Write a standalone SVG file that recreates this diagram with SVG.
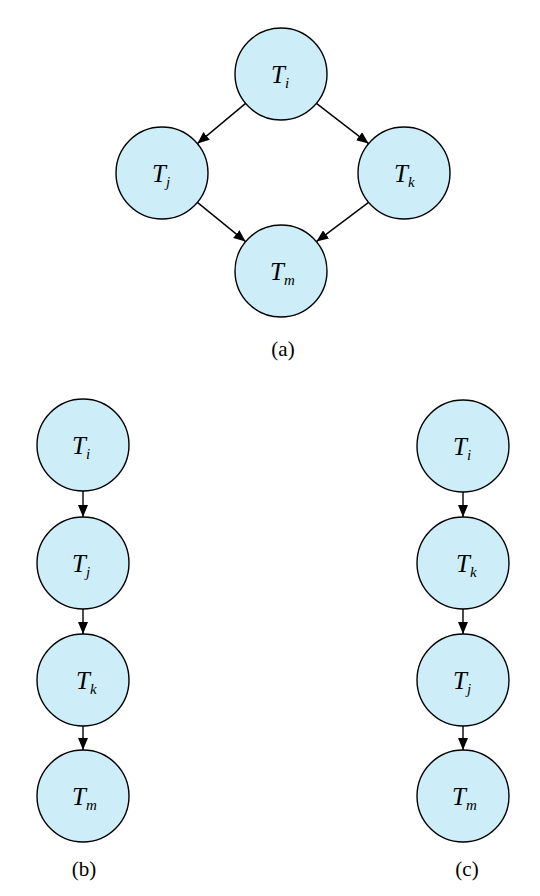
<svg xmlns="http://www.w3.org/2000/svg" width="540" height="896" viewBox="0 0 540 896">
<style>
.n{fill:#cdeef9;stroke:#000;stroke-width:1.4}
.t{font-family:"Liberation Serif","Times New Roman",serif;font-style:italic;font-size:25px;fill:#000}
.s{font-size:15px}
.c{stroke:#000;stroke-width:1.4;fill:none;marker-end:url(#ah)}
.l{font-family:"Liberation Serif","Times New Roman",serif;font-size:21px;fill:#000;text-anchor:middle}
</style>
<defs>
<marker id="ah" markerUnits="userSpaceOnUse" markerWidth="12" markerHeight="10" refX="12" refY="5" orient="auto">
<path d="M0,0 L12,5 L0,10 z" fill="#000"/>
</marker>
</defs>
<g id="connectors">
<line class="c" x1="245.6" y1="103.4" x2="197.4" y2="143.6"/>
<line class="c" x1="316.4" y1="103.4" x2="368.6" y2="143.6"/>
<line class="c" x1="197.4" y1="202.4" x2="245.6" y2="241.6"/>
<line class="c" x1="368.6" y1="202.4" x2="316.4" y2="241.6"/>
<line class="c" x1="83" y1="491" x2="83" y2="517"/>
<line class="c" x1="83" y1="609" x2="83" y2="634"/>
<line class="c" x1="83" y1="726" x2="83" y2="750"/>
<line class="c" x1="463" y1="492" x2="463" y2="517"/>
<line class="c" x1="463" y1="609" x2="463" y2="634"/>
<line class="c" x1="463" y1="726" x2="463" y2="750"/>
</g>
<g id="a-Ti"><circle class="n" cx="281" cy="74" r="46"/><text class="t" x="271" y="83">T<tspan class="s" dy="5">i</tspan></text></g>
<g id="a-Tj"><circle class="n" cx="162" cy="173" r="46"/><text class="t" x="152" y="182">T<tspan class="s" dy="5">j</tspan></text></g>
<g id="a-Tk"><circle class="n" cx="404" cy="173" r="46"/><text class="t" x="394" y="182">T<tspan class="s" dy="5">k</tspan></text></g>
<g id="a-Tm"><circle class="n" cx="281" cy="271" r="46"/><text class="t" x="270" y="280">T<tspan class="s" dy="5">m</tspan></text></g>
<text class="l" x="283" y="356">(a)</text>
<g id="b-Ti"><circle class="n" cx="83" cy="445" r="46"/><text class="t" x="72" y="454">T<tspan class="s" dy="5">i</tspan></text></g>
<g id="b-Tj"><circle class="n" cx="83" cy="563" r="46"/><text class="t" x="72" y="572">T<tspan class="s" dy="5">j</tspan></text></g>
<g id="b-Tk"><circle class="n" cx="83" cy="680" r="46"/><text class="t" x="76" y="689">T<tspan class="s" dy="5">k</tspan></text></g>
<g id="b-Tm"><circle class="n" cx="83" cy="796" r="46"/><text class="t" x="72" y="805">T<tspan class="s" dy="5">m</tspan></text></g>
<text class="l" x="84" y="876">(b)</text>
<g id="c-Ti"><circle class="n" cx="463" cy="446" r="46"/><text class="t" x="453" y="455">T<tspan class="s" dy="5">i</tspan></text></g>
<g id="c-Tk"><circle class="n" cx="463" cy="563" r="46"/><text class="t" x="456" y="572">T<tspan class="s" dy="5">k</tspan></text></g>
<g id="c-Tj"><circle class="n" cx="463" cy="680" r="46"/><text class="t" x="453" y="689">T<tspan class="s" dy="5">j</tspan></text></g>
<g id="c-Tm"><circle class="n" cx="463" cy="796" r="46"/><text class="t" x="452" y="805">T<tspan class="s" dy="5">m</tspan></text></g>
<text class="l" x="467" y="876">(c)</text>
</svg>
